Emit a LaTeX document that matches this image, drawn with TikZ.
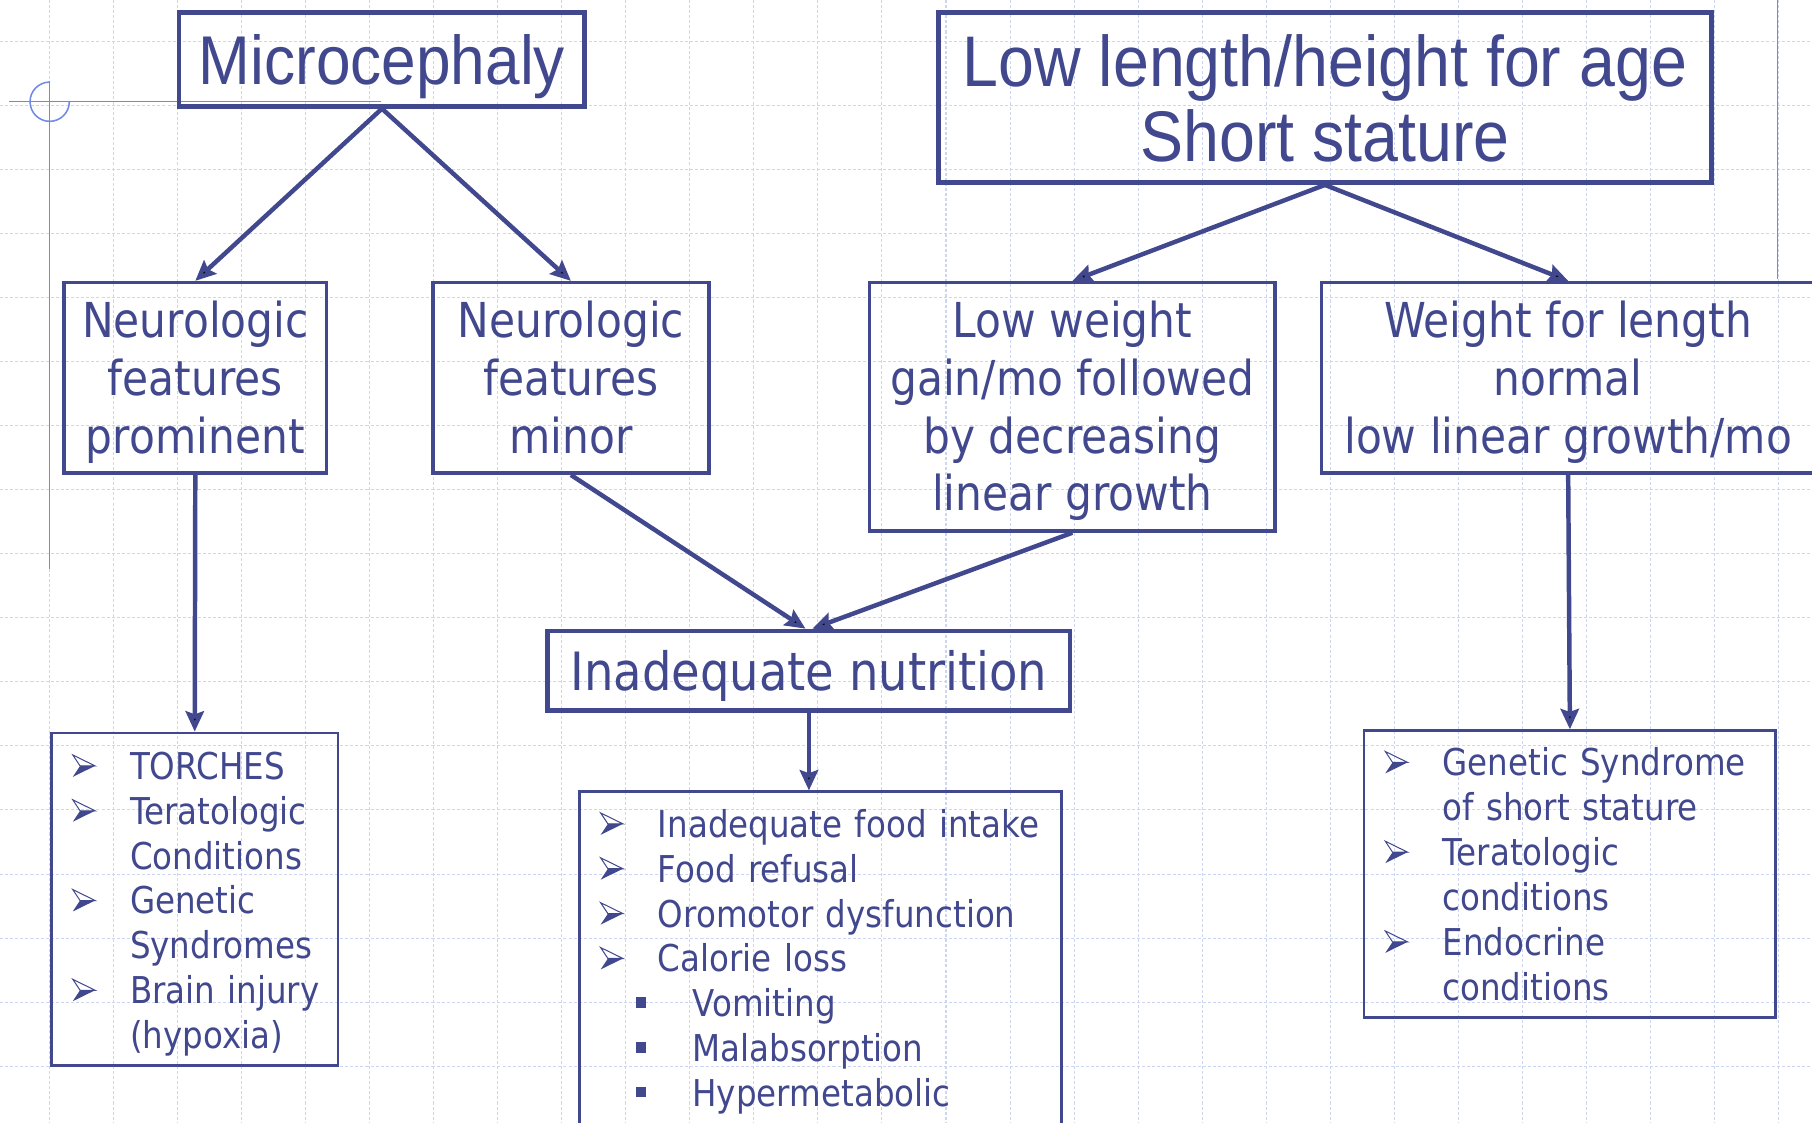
\documentclass[tikz,border=0pt]{standalone}
\usepackage{fontspec}
\setmainfont{DejaVu Sans}[FakeStretch=0.88]
\newfontfamily\titlefont{Liberation Sans}[FakeStretch=0.9]
\usetikzlibrary{arrows.meta}
\definecolor{navy}{HTML}{41488E}
\definecolor{gridblue}{HTML}{CCD6F3}
\definecolor{guideblue}{HTML}{7088E6}

\newcommand{\arrbul}{\makebox[1cm][l]{\tikz[x=1pt,y=1pt,baseline=0pt,line width=0.5pt,line join=miter]{%
  \draw[navy] (0,12) -- (11,6.6) -- (3.6,6.6) -- cycle;
  \fill[navy] (0,1.2) -- (11,6.6) -- (3.6,6.6) -- cycle;}}}
\newcommand{\sqbul}{\hspace*{0.62cm}\makebox[0.98cm][l]{\rule[4.5pt]{5pt}{5pt}}}
\newcommand{\pitem}[1]{\mbox{\arrbul #1}}
\newcommand{\qitem}[1]{\mbox{\hspace*{1cm}#1}}
\newcommand{\sitem}[1]{\mbox{\sqbul #1}}
\newcommand{\capup}{\rule{0pt}{1em}}
\newcommand{\capdn}{\rule[-0.272em]{0pt}{0.272em}}

\begin{document}
\begin{tikzpicture}[x=0.02cm, y=-0.02cm,
  box/.style={draw=navy, text=navy, line width=1.7pt, align=center, inner sep=0pt,
    font=\fontsize{23.7}{28.45}\selectfont},
  titlebox/.style={box, line width=2.3pt},
  listbox/.style={draw=navy, text=navy, line width=1.4pt, align=left, inner xsep=0.36cm,
    font=\fontsize{18.2}{22.1}\selectfont},
  link/.style={draw=navy, line width=2.2pt, -{Stealth[inset=1.5pt, length=10pt, width=9pt]}}]
  \useasboundingbox (0,0) rectangle (1568,971);
  \fill[white] (0,0) rectangle (1568,971);
  \foreach \gx in {0,...,27}
    \draw[gridblue, line width=0.5pt, dash pattern=on 1.5pt off 1pt] ({43+55.4*\gx},0) -- ({43+55.4*\gx},971);
  \foreach \gy in {0,...,16}
    \draw[gridblue, line width=0.5pt, dash pattern=on 1.5pt off 1pt] (0,{36.1+55.4*\gy}) -- (1568,{36.1+55.4*\gy});

  \draw[guideblue, line width=0.75pt] (8,88) -- (330,88);
  \draw[guideblue, line width=0.75pt] (43,70) -- (43,492);
  \draw[guideblue, line width=0.75pt] (60,88) arc[start angle=0, end angle=270, radius=17];
  \draw[guideblue, line width=0.75pt] (1538,0) -- (1538,241);

  \node[titlebox, minimum width=7.02cm, minimum height=1.62cm, font=\titlefont\fontsize{34}{37}\selectfont]
    (micro) at (330.5,51.5) {\capup Microcephaly\capdn};
  \node[titlebox, minimum width=13.38cm, minimum height=2.94cm, font=\titlefont\fontsize{35.3}{37}\selectfont]
    (stature) at (1146.5,84.5) {\capup Low length/height for age\\Short stature\capdn};

  \node[box, minimum width=4.54cm, minimum height=3.3cm] (prominent) at (169,327)
    {\capup Neurologic\\features\\prominent\capdn};
  \node[box, minimum width=4.78cm, minimum height=3.3cm] (minor) at (494,327)
    {\capup Neurologic\\features\\minor\capdn};
  \node[box, minimum width=7.02cm, minimum height=4.3cm] (lowgain) at (928,352)
    {\capup Low weight\\gain/mo followed\\by decreasing\\linear growth\capdn};
  \node[box, minimum width=8.54cm, minimum height=3.3cm] (wfl) at (1357,327)
    {\capup Weight for length\\normal\\low linear growth/mo\capdn};

  \node[box, line width=2.3pt, minimum width=9.04cm, minimum height=1.38cm, font=\fontsize{26}{31}\selectfont]
    (nutri) at (700,580.5) {\capup Inadequate nutrition\capdn};

  \node[listbox, text width=4.24cm, minimum height=5.75cm] (leftlist) at (168.5,778)
    {\rule{0pt}{18.4pt}\pitem{TORCHES}\\
     \pitem{Teratologic}\\
     \qitem{Conditions}\\
     \pitem{Genetic}\\
     \qitem{Syndromes}\\
     \pitem{Brain injury}\\
     \qitem{(hypoxia)}};
  \node[listbox, text width=7.63cm, inner ysep=0.3cm, anchor=north] (midlist) at (710,684)
    {\pitem{Inadequate food intake}\\
     \pitem{Food refusal}\\
     \pitem{Oromotor dysfunction}\\
     \pitem{Calorie loss}\\
     \sitem{Vomiting}\\
     \sitem{Malabsorption}\\
     \sitem{Hypermetabolic}};
  \node[listbox, text width=6.41cm, minimum height=4.97cm] (rightlist) at (1358.5,756.5)
    {\pitem{Genetic Syndrome}\\
     \qitem{of short stature}\\
     \pitem{Teratologic}\\
     \qitem{conditions}\\
     \pitem{Endocrine}\\
     \qitem{conditions}};

  \draw[link] (micro.south) -- (prominent.north);
  \draw[link] (micro.south) -- (minor.north);
  \draw[link] (stature.south) -- (lowgain.north);
  \draw[link] (stature.south) -- (wfl.north);
  \draw[link] (prominent.south) -- (leftlist.north);
  \draw[link] (minor.south) -- ([xshift=-0.06cm]nutri.north);
  \draw[link] (lowgain.south) -- ([xshift=0.06cm]nutri.north);
  \draw[link] (nutri.south) -- (nutri.south |- midlist.north);
  \draw[link] (wfl.south) -- (rightlist.north);
\end{tikzpicture}
\end{document}
